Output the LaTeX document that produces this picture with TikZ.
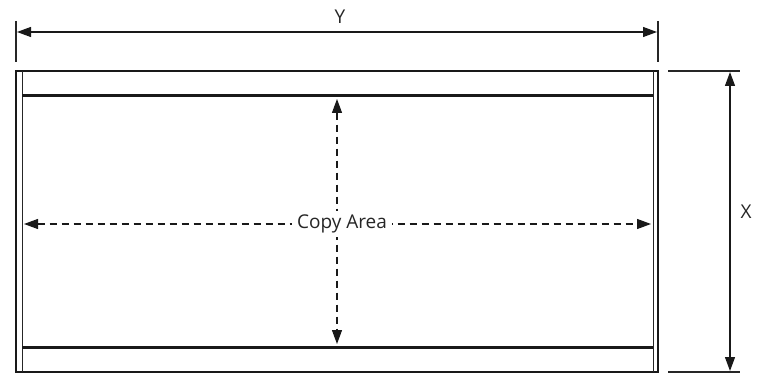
\documentclass[tikz,border=0pt]{standalone}
\usepackage{fontspec}
\setmainfont{Open Sans}
\usetikzlibrary{arrows.meta}
\begin{document}
\begin{tikzpicture}[x=1pt,y=-1pt,
  tip/.style={Triangle[length=14pt,width=10pt]},
  dimarrow/.style={line width=1.2pt,draw=black!90,{Triangle[length=14pt,width=10pt]}-{Triangle[length=14pt,width=10pt]}},
  dasharrow/.style={line width=1.2pt,draw=black!90,dash pattern=on 7pt off 5pt,{Triangle[length=14pt,width=10pt]}-{Triangle[length=14pt,width=10pt]}},
  extline/.style={line width=1.2pt,draw=black!85},
  frameline/.style={line width=1.5pt,draw=black!90},
  barline/.style={line width=3pt,draw=black!90},
  innerline/.style={line width=1pt,draw=black!85},
  lbl/.style={font=\fontsize{19}{22}\selectfont,text=black!85,inner sep=1pt}]
\useasboundingbox (0,0) rectangle (760,374);
% frame
\coordinate (tl) at (16,71);
\coordinate (br) at (658,372);
\draw[frameline] (tl) rectangle (br);
\coordinate (il1) at (22,71); \coordinate (il2) at (22,372);
\coordinate (ir1) at (653,71); \coordinate (ir2) at (653,372);
\draw[innerline] (il1) -- (il2);
\draw[innerline] (ir1) -- (ir2);
\coordinate (bt1) at (22,96); \coordinate (bt2) at (653,96);
\coordinate (bb1) at (22,347); \coordinate (bb2) at (653,347);
\draw[barline] (bt1) -- (bt2);
\draw[barline] (bb1) -- (bb2);
% Y dimension
\coordinate (ey1a) at (16,21); \coordinate (ey1b) at (16,62);
\coordinate (ey2a) at (658,21); \coordinate (ey2b) at (658,62);
\draw[extline] (ey1a) -- (ey1b);
\draw[extline] (ey2a) -- (ey2b);
\coordinate (ya) at (17,32); \coordinate (yb) at (657,32);
\draw[dimarrow] (ya) -- (yb);
\node[lbl] (ylabel) at (340,17) {Y};
% X dimension
\coordinate (ex1a) at (668,71); \coordinate (ex1b) at (740,71);
\coordinate (ex2a) at (668,372); \coordinate (ex2b) at (740,372);
\draw[extline] (ex1a) -- (ex1b);
\draw[extline] (ex2a) -- (ex2b);
\coordinate (xa) at (730,72); \coordinate (xb) at (730,371);
\draw[dimarrow] (xa) -- (xb);
\node[lbl] (xlabel) at (746,212) {X};
% copy area
\coordinate (cl) at (24,224); \coordinate (cr) at (651,224);
\coordinate (ct) at (337,99); \coordinate (cb) at (337,344);
\draw[dasharrow] (ct) -- (cb);
\draw[dasharrow] (cl) -- (cr);
\node[lbl,fill=white,inner xsep=5pt,inner ysep=4pt] (copy) at (342,224) {Copy Area};
\end{tikzpicture}
\end{document}
